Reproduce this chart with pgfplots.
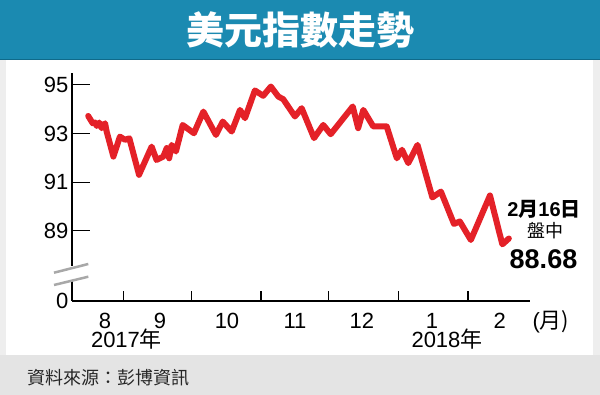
\documentclass[border=0pt]{standalone}
\usepackage{fontspec}
\setmainfont{Liberation Sans}
\newfontfamily\cjk{Noto Sans CJK TC}
\usepackage{pgfplots}
\pgfplotsset{compat=1.18}
\definecolor{barblue}{HTML}{1B8AB1}
\definecolor{barline}{HTML}{0F6A8A}
\definecolor{linered}{HTML}{E42128}
\definecolor{footgray}{HTML}{E4E4E4}
\definecolor{sidegray}{HTML}{EEEEEE}
\definecolor{breakgray}{HTML}{A8A8A8}
\begin{document}
\begin{tikzpicture}
\path[use as bounding box] (0pt,0pt) rectangle (600pt,-395pt);
\fill[sidegray] (0pt,-60pt) rectangle (600pt,-355pt);
\fill[white] (6pt,-60pt) rectangle (593pt,-355pt);
\fill[barblue] (0pt,0pt) rectangle (600pt,-60pt);
\draw[barline, line width=1.5pt] (0pt,-59.5pt) -- (600pt,-59.5pt);
\fill[footgray] (0pt,-355pt) rectangle (600pt,-395pt);
\node[white, font=\cjk\bfseries\fontsize{38}{40}\selectfont] at (300pt,-30pt) {美元指數走勢};
\node[anchor=west, text=black!85, font=\cjk\fontsize{18}{20}\selectfont, inner sep=0pt] at (27pt,-378pt) {資料來源：彭博資訊};
\begin{axis}[
  at={(72pt,-301pt)}, anchor=south west,
  scale only axis, width=458pt, height=228.3pt,
  xmin=8, xmax=211.6, ymin=86.11, ymax=95.5,
  enlargelimits=false, clip=false,
  axis x line=bottom, axis y line=left,
  axis line style={-, line width=1.2pt},
  tick align=inside,
  major tick length=18pt,
  tick style={line width=1.2pt, black},
  ytick={86.11,89,91,93,95},
  yticklabels={0,89,91,93,95},
  xtick={22.7,47.1,76.9,107.1,136.9,168,198.2},
  xticklabels={8,9,10,11,12,1,2},
  major x tick style={draw=none},
  xticklabel style={anchor=base, yshift=-28pt, inner sep=0pt},
  ticklabel style={font=\fontsize{22}{24}\selectfont},
  extra x ticks={31,61,92,122,153,184},
  extra x tick labels={},
  extra x tick style={major tick length=10pt, major x tick style={draw=black, line width=1.2pt}},
]
\addplot[linered, line width=6pt, line join=round, line cap=round] coordinates {
(15.2,93.72) (17.2,93.42) (18.2,93.45) (19.0,93.31) (20.1,93.45) (21.2,93.22)
(22.7,93.42) (23.4,93.08) (26.4,92.05) (29.3,92.87) (31.6,92.74) (33.5,92.80)
(37.8,91.30) (43.4,92.46) (45.6,91.91) (48.6,92.05) (50.1,92.40) (51.2,91.98)
(52.3,92.53) (54.2,92.26) (57.2,93.35) (62.2,93.01) (66.4,93.90) (72.0,92.94)
(75.0,93.49) (79.0,93.08) (82.7,93.97) (84.9,93.63) (89.3,94.77) (93.0,94.55)
(96.4,94.93) (99.7,94.52) (101.9,94.41) (107.1,93.70) (110.1,94.04) (115.6,92.81)
(119.7,93.35) (123.0,92.97) (132.8,94.11) (135.2,93.22) (137.5,93.97) (141.9,93.29)
(147.9,93.29) (152.4,91.98) (154.7,92.33) (157.5,91.78) (161.6,92.53) (168.2,90.37)
(172.0,90.61) (177.8,89.28) (180.4,89.38) (185.3,88.62) (193.8,90.45) (199.3,88.44)
(202.2,88.68)
};
\end{axis}
\fill[white] (68pt,-266pt) rectangle (76pt,-281pt);
\draw[breakgray, line width=2.5pt] (54pt,-272.7pt) -- (88.3pt,-264pt);
\draw[breakgray, line width=2.5pt] (54pt,-285pt) -- (88.3pt,-276.7pt);
\node[anchor=base, font=\fontsize{22}{24}\selectfont, inner sep=0pt] at (551pt,-329pt) {(\cjk 月\/)};
\node[anchor=base, font=\fontsize{22}{24}\selectfont, inner sep=0pt] at (126.5pt,-348pt) {2017{\cjk 年}};
\node[anchor=base, font=\fontsize{22}{24}\selectfont, inner sep=0pt] at (447pt,-348pt) {2018{\cjk 年}};
\node[anchor=base, font=\bfseries\fontsize{20}{22}\selectfont, inner sep=0pt] at (544pt,-217pt) {2{\cjk\bfseries 月}16{\cjk\bfseries 日}};
\node[anchor=base, font=\cjk\fontsize{18}{20}\selectfont, inner sep=0pt] at (545pt,-238pt) {盤中};
\node[anchor=base, font=\bfseries\fontsize{27}{29}\selectfont, inner sep=0pt] at (543.5pt,-269pt) {88.68};
\end{tikzpicture}
\end{document}
